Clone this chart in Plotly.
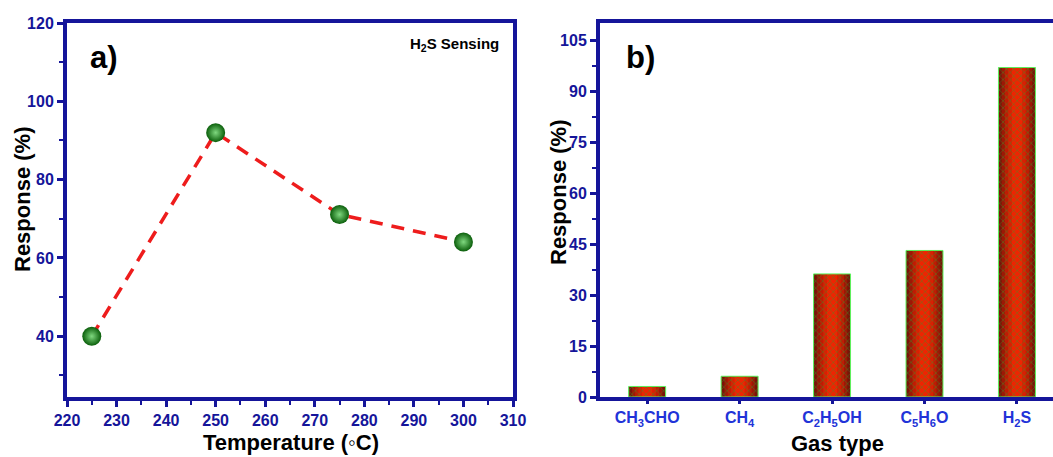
import plotly.graph_objects as go

# Panel a data
temperature = [225, 250, 275, 300]
response_temp = [40.0, 92.0, 71.1, 64.1]

# Panel b data
gases = ["CH<sub>3</sub>CHO", "CH<sub>4</sub>", "C<sub>2</sub>H<sub>5</sub>OH",
         "C<sub>5</sub>H<sub>6</sub>O", "H<sub>2</sub>S"]
response_gas = [3.1, 6.1, 36.2, 43.1, 96.9]

W, H = 1053, 457
NAVY = "#15159a"
BLUE = "#2233d8"
FONT = "Liberation Sans"

fig = go.Figure()

fig.add_trace(go.Scatter(
    x=temperature, y=response_temp, mode="lines+markers",
    line=dict(color="#ee1c1c", width=3.5, dash="13px,9px"),
    marker=dict(size=19, color="#0a5e0a",
                gradient=dict(type="radial", color="#7fd87f"),
                line=dict(width=0)),
    xaxis="x", yaxis="y", showlegend=False))

# bars with a simulated horizontal gradient (dark edges, bright centre)
grad = [(0.4, "#781408"), (0.33, "#9c1806"), (0.26, "#be1c04"),
        (0.19, "#d82003"), (0.11, "#ee2402")]
for w, c in grad:
    fig.add_trace(go.Bar(x=gases, y=response_gas, width=w,
                         marker=dict(color=c, line=dict(width=0)),
                         xaxis="x2", yaxis="y2", showlegend=False))
fig.add_trace(go.Bar(x=gases, y=response_gas, width=0.4,
                     marker=dict(color="rgba(0,0,0,0)",
                                 line=dict(color="#5cf25c", width=1),
                                 pattern=dict(shape="x", fgcolor="#3c9424",
                                              bgcolor="rgba(0,0,0,0)",
                                              fillmode="overlay", size=5, solidity=0.3)),
                     xaxis="x2", yaxis="y2", showlegend=False))

tickfont = dict(family=FONT, size=16, color=NAVY, weight="bold")
common_axis = dict(showline=True, linecolor=NAVY, linewidth=4, showgrid=False,
                   zeroline=False, ticks="outside", tickcolor=NAVY, tickwidth=3,
                   ticklen=6, tickfont=tickfont, automargin=False)

ax_a_l, ax_a_r = 67 / W, 513 / W
ax_b_l = 600 / W
top_px, bot_px = 23, 397
ydom = [1 - bot_px / H, 1 - top_px / H]

fig.update_layout(
    width=W, height=H, margin=dict(l=0, r=0, t=0, b=0),
    paper_bgcolor="white", plot_bgcolor="white", barmode="overlay",
    font=dict(family=FONT),
    xaxis=dict(domain=[ax_a_l, ax_a_r], range=[220, 310], dtick=10, mirror=True,
               minor=dict(dtick=5, ticks="outside", ticklen=4, tickwidth=2, tickcolor=NAVY),
               anchor="y", **common_axis),
    yaxis=dict(domain=ydom, range=[24.5, 120], dtick=20, tick0=0, mirror=True,
               minor=dict(dtick=10, ticks="outside", ticklen=4, tickwidth=2, tickcolor=NAVY),
               anchor="x", **common_axis),
    xaxis2=dict(domain=[ax_b_l, 1.0], range=[-0.51, 4.39], mirror=True, anchor="y2",
                type="category",
                **{**common_axis, "ticklen": 3,
                   "tickfont": dict(family=FONT, size=16, color=BLUE, weight="bold")}),
    yaxis2=dict(domain=ydom, range=[0, 110], dtick=15, tick0=0, anchor="x2",
                minor=dict(dtick=7.5, ticks="outside", ticklen=4, tickwidth=2, tickcolor=NAVY),
                **common_axis),
)

ann = []
def px_ann(text, x, y, size, rot=0, xanchor="center", color="black"):
    ann.append(dict(text=text, x=x / W, y=1 - y / H, xref="paper", yref="paper",
                    showarrow=False, textangle=rot, xanchor=xanchor, yanchor="middle",
                    font=dict(family=FONT, size=size, color=color)))

px_ann("<b>Response (%)</b>", 22, 200, 22, rot=-90)
px_ann("<b>Temperature (◦C)</b>", 291, 442, 22)
px_ann("<b>Response (%)</b>", 558, 193, 22, rot=-90)
px_ann("<b>Gas type</b>", 837, 443, 22)
px_ann("<b>a)</b>", 104, 57, 31)
px_ann("<b>b)</b>", 640, 57, 31)
px_ann("<b>H<sub>2</sub>S Sensing</b>", 501, 45, 15, xanchor="right")
fig.update_layout(annotations=ann)

fig.write_html("out.html")
